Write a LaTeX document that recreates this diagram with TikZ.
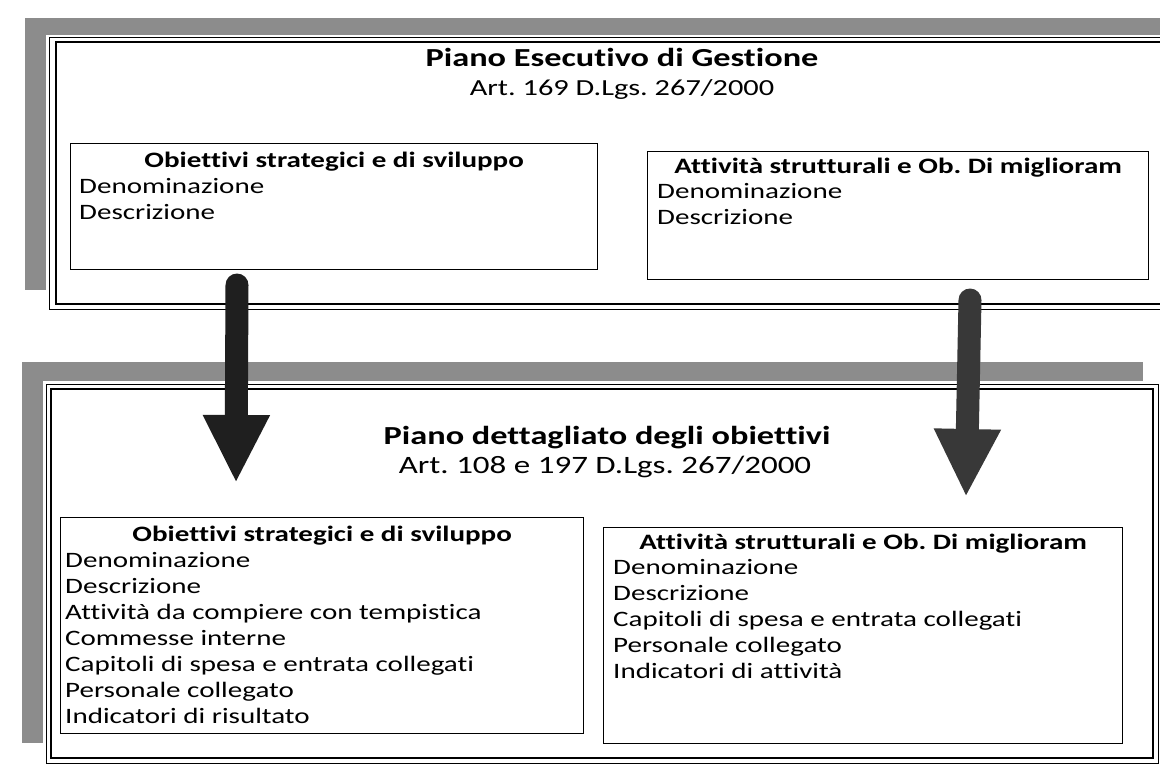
\documentclass[tikz,border=0pt]{standalone}
\usepackage{fontspec}
\setmainfont{Carlito}[FakeStretch=1.32,Ligatures=NoCommon]
\usetikzlibrary{arrows.meta,calc}
\frenchspacing
\begin{document}
\begin{tikzpicture}[x=1pt,y=-1pt,
  band/.style={fill=black!45, draw=none},
  thinline/.style={draw=black, line width=1pt},
  thickline/.style={draw=black, line width=1.6pt},
  box/.style={draw=black, line width=1.3pt, fill=white, anchor=north west, inner sep=0pt, rectangle},
  boxtitle/.style={font=\fontsize{22}{26}\selectfont\bfseries, anchor=base, inner sep=0pt},
  item/.style={font=\fontsize{22}{26}\selectfont, anchor=base west, inner sep=0pt},
  maintitle/.style={font=\fontsize{26}{30}\selectfont\bfseries, anchor=base, inner sep=0pt},
  subtitle/.style={font=\fontsize{23}{28}\selectfont, anchor=base, inner sep=0pt},
  bigarrow/.style={line width=23pt, line cap=round, -{Triangle[width=62pt,length=68pt]}}
]
\fill[white] (0,0) rectangle (1160,774);
\useasboundingbox (0,0) rectangle (1160,774);

% ---- top frame (Piano Esecutivo di Gestione)
\fill[band] (25,18) rectangle (1160,35);
\fill[band] (25,18) rectangle (46,290);
\draw[thinline] (1161,37) -- (49,37) -- (49,309) -- (1161,309);
\draw[thickline] (1161,42) -- (56,42) -- (56,304) -- (1161,304);

\node[maintitle] (t1) at (622,66) {Piano Esecutivo di Gestione};
\node[subtitle] (t2) at (622,95) {Art. 169 D.Lgs. 267/2000};

\node[box, minimum width=527pt, minimum height=126pt] (tl) at (70,143) {};
\node[boxtitle] (tlh) at ($(tl.north)+(0,24)$) {Obiettivi strategici e di sviluppo};
\foreach \t [count=\i] in {Denominazione,Descrizione}
  \node[item] (tl-\i) at ($(tl.north west)+(9,24+26*\i)$) {\t};

\node[box, minimum width=501pt, minimum height=128pt] (tr) at (647,151) {};
\node[boxtitle] (trh) at ($(tr.north)+(0,22)$) {Attività strutturali e Ob. Di miglioram};
\foreach \t [count=\i] in {Denominazione,Descrizione}
  \node[item] (tr-\i) at ($(tr.north west)+(10,21+26*\i)$) {\t};

% ---- bottom frame (Piano dettagliato degli obiettivi)
\fill[band] (22,362) rectangle (1143,381);
\fill[band] (22,362) rectangle (43,743);
\draw[thinline] (46,384) rectangle (1158,763);
\draw[thickline] (51,389) rectangle (1153,758);

\node[maintitle] (b1) at (607,444) {Piano dettagliato degli obiettivi};
\node[subtitle, font=\fontsize{25}{30}\selectfont] (b2) at (605,473) {Art. 108 e 197 D.Lgs. 267/2000};

\node[box, minimum width=523pt, minimum height=216pt] (bl) at (60,517) {};
\node[boxtitle] (blh) at ($(bl.north)+(0,24)$) {Obiettivi strategici e di sviluppo};
\foreach \t [count=\i] in {Denominazione,Descrizione,Attività da compiere con tempistica,Commesse interne,Capitoli di spesa e entrata collegati,Personale collegato,Indicatori di risultato}
  \node[item] (bl-\i) at ($(bl.north west)+(5,24+26*\i)$) {\t};

\node[box, minimum width=519pt, minimum height=216pt] (br) at (603,527) {};
\node[boxtitle] (brh) at ($(br.north)+(0,22)$) {Attività strutturali e Ob. Di miglioram};
\foreach \t [count=\i] in {Denominazione,Descrizione,Capitoli di spesa e entrata collegati,Personale collegato,Indicatori di attività}
  \node[item] (br-\i) at ($(br.north west)+(10,21+26*\i)$) {\t};

% ---- arrows
\coordinate (a1s) at (237,285);
\coordinate (a1e) at (236,483);
\coordinate (a2s) at (970,300);
\coordinate (a2e) at (966,497);
\draw[bigarrow, draw=black!88, fill=black!88] (a1s) -- (a1e);
\draw[bigarrow, draw=black!78, fill=black!78] (a2s) -- (a2e);
\end{tikzpicture}
\end{document}
